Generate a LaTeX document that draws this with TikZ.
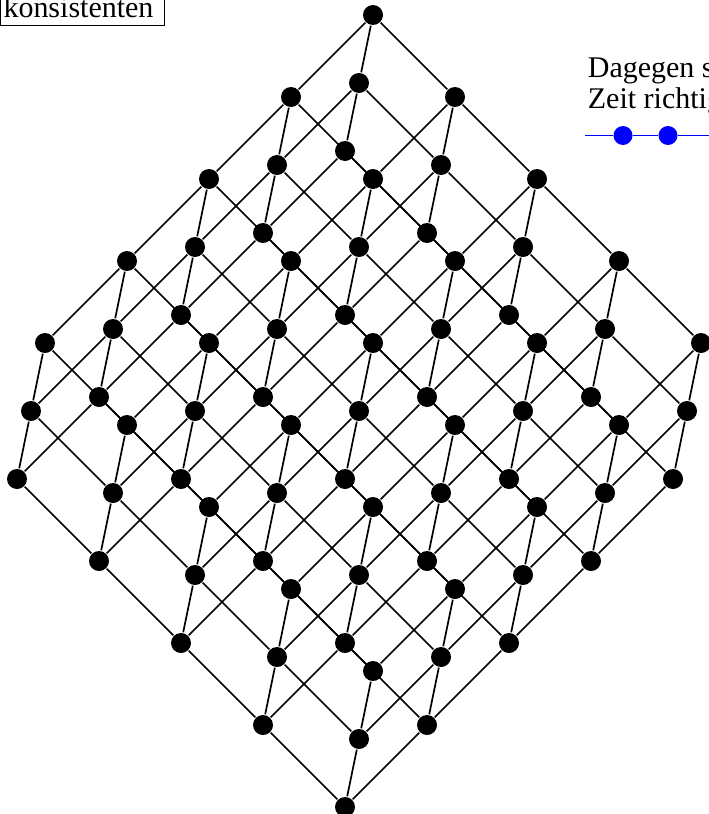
\documentclass[tikz,border=0pt]{standalone}
\usepackage{fontspec}
\setmainfont{Liberation Serif}
\usetikzlibrary{backgrounds}

\begin{document}
\begin{tikzpicture}[x=1pt,y=-1pt,line width=1.7pt,
  dot/.style={circle,fill=black,inner sep=0pt,minimum size=20pt},
  bluedot/.style={circle,fill=blue,inner sep=0pt,minimum size=19pt},
  lbl/.style={anchor=base west,inner sep=0pt,font=\fontsize{30}{31}\selectfont}]
  \useasboundingbox (0,0) rectangle (709,814);
  \clip (0,0) rectangle (709,814);
  \node (cut) [draw,line width=1pt,anchor=south east,inner xsep=3pt,inner ysep=8pt,
    text width=158pt,font=\fontsize{30}{31}\selectfont] at (165,26) {konsistenten};
  \node[lbl] (da) at (587,77) {Dagegen s};
  \node[lbl] (ze) at (587,108) {Zeit richtig};
  \coordinate (bs) at (585,135.5);
  \coordinate (be) at (720,135.5);
  \node[bluedot] (b1) at (623,135.5) {};
  \node[bluedot] (b2) at (668,135.5) {};
  \draw[blue,line width=1.8pt] (bs) -- (b1) -- (b2) -- (be);
  \begin{scope}[shift={(373,15)},x={(-82pt,-82pt)},y={(82pt,-82pt)},z={(-14pt,-68pt)}]
    \foreach \i in {0,...,4}
      \foreach \j in {0,...,4}
        \foreach \k in {0,1,2}
          \node[dot] (n\i\j\k) at (\i,\j,\k) {};
    \begin{pgfonlayer}{background}
      \foreach \i in {0,...,4}
        \foreach \j in {0,...,4}
          \foreach \k in {0,1,2} {
            \pgfmathtruncatemacro\ii{\i+1}
            \pgfmathtruncatemacro\jj{\j+1}
            \pgfmathtruncatemacro\kk{\k+1}
            \ifnum\i<4 \draw[line width=1.7pt] (n\i\j\k) -- (n\ii\j\k); \fi
            \ifnum\j<4 \draw[line width=1.7pt] (n\i\j\k) -- (n\i\jj\k); \fi
            \ifnum\k<2 \draw[line width=1.7pt] (n\i\j\k) -- (n\i\j\kk); \fi
          }
    \end{pgfonlayer}
  \end{scope}
\end{tikzpicture}
\end{document}
